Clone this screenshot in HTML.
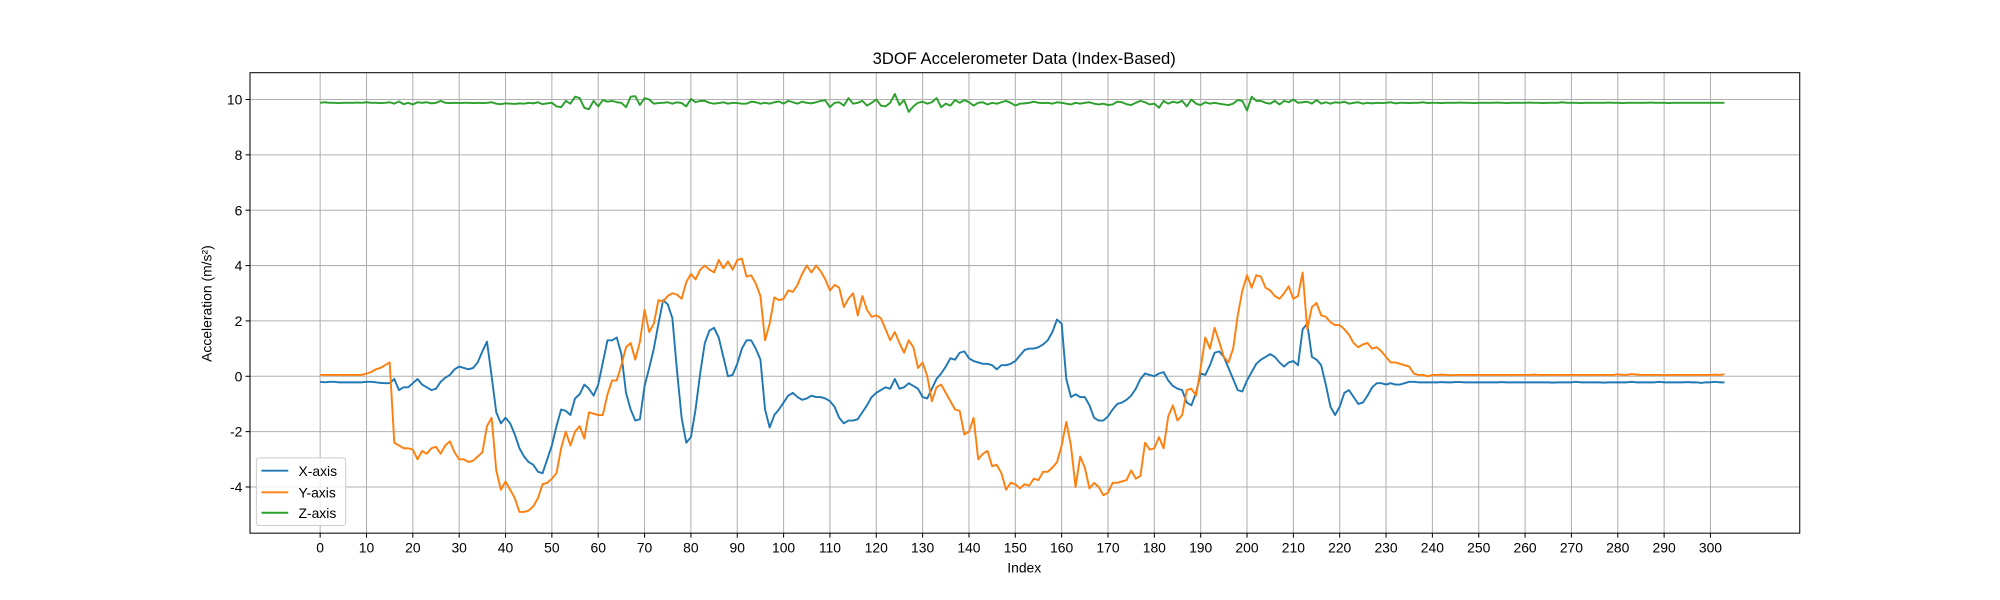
<!DOCTYPE html>
<html><head><meta charset="utf-8"><style>
html,body{margin:0;padding:0;background:#fff;}
svg{display:block;font-family:"Liberation Sans","DejaVu Sans",sans-serif;}
</style></head><body>
<svg id="chart" width="2000" height="600" xmlns="http://www.w3.org/2000/svg">
<rect width="2000" height="600" fill="#fff"/>
<g transform="scale(1.27551)">
<g id="grid"></g>
<g id="series"></g>
<rect x="196" y="57" width="1215" height="361" fill="none" stroke="#000" stroke-width="0.8"/>
<g id="ticks"></g>
<text x="803" y="50" text-anchor="middle" font-size="13">3DOF Accelerometer Data (Index-Based)</text>
<text x="803" y="449" text-anchor="middle" font-size="10.9">Index</text>
<text transform="translate(166,238) rotate(-90)" text-anchor="middle" font-size="10.9">Acceleration (m/s²)</text>
<g>
<rect x="201" y="359" width="70" height="53" rx="2" fill="#fff" fill-opacity="0.8" stroke="#ccc" stroke-width="0.8"/>
<g><line x1="205" y1="369" x2="226" y2="369" stroke="#1f77b4" stroke-width="1.5"/><text x="234" y="373" font-size="10.9">X-axis</text></g>
<g><line x1="205" y1="386" x2="226" y2="386" stroke="#ff7f0e" stroke-width="1.5"/><text x="234" y="390" font-size="10.9">Y-axis</text></g>
<g><line x1="205" y1="402" x2="226" y2="402" stroke="#2ca02c" stroke-width="1.5"/><text x="234" y="406" font-size="10.9">Z-axis</text></g>
</g>
</g>
</svg>
<script>
const xTicks=[0,10,20,30,40,50,60,70,80,90,100,110,120,130,140,150,160,170,180,190,200,210,220,230,240,250,260,270,280,290,300];
const yTicks=[-4,-2,0,2,4,6,8,10];
const seriesX=[-0.2,-0.22,-0.2,-0.2,-0.22,-0.22,-0.22,-0.22,-0.22,-0.22,-0.2,-0.2,-0.22,-0.24,-0.25,-0.25,
-0.1,-0.5,-0.4,-0.4,-0.25,-0.1,-0.3,-0.4,-0.5,-0.45,-0.2,-0.05,0.05,0.25,0.35,0.3,0.25,0.3,0.5,0.9,1.25,0.0,-1.3,-1.7,
-1.5,-1.7,-2.1,-2.6,-2.9,-3.1,-3.2,-3.45,-3.5,-3.0,-2.5,-1.8,-1.2,-1.25,-1.4,-0.8,-0.65,-0.3,-0.45,-0.7,
-0.3,0.5,1.3,1.3,1.4,0.8,-0.6,-1.2,-1.6,-1.55,-0.35,0.3,1.0,1.9,2.75,2.6,2.1,0.2,-1.5,-2.4,
-2.2,-1.2,0.1,1.2,1.65,1.75,1.4,0.7,0.0,0.05,0.45,1.0,1.3,1.3,1.0,0.6,-1.2,-1.85,-1.4,-1.2,
-0.95,-0.7,-0.6,-0.75,-0.85,-0.8,-0.7,-0.75,-0.75,-0.8,-0.9,-1.1,-1.5,-1.7,-1.6,-1.6,-1.55,-1.3,-1.05,-0.75,
-0.6,-0.5,-0.4,-0.45,-0.1,-0.45,-0.4,-0.25,-0.35,-0.45,-0.75,-0.8,-0.45,-0.1,0.1,0.35,0.65,0.6,0.85,0.9,
0.65,0.55,0.5,0.45,0.45,0.4,0.25,0.4,0.4,0.45,0.55,0.75,0.95,1.0,1.0,1.05,1.15,1.3,1.6,2.05,
1.9,-0.1,-0.75,-0.65,-0.75,-0.75,-1.05,-1.5,-1.6,-1.6,-1.45,-1.2,-1.0,-0.95,-0.85,-0.7,-0.45,-0.1,0.1,0.05,
0.0,0.1,0.15,-0.15,-0.35,-0.45,-0.5,-0.95,-1.05,-0.6,0.1,0.05,0.4,0.85,0.9,0.7,0.3,-0.1,-0.5,-0.55,
-0.15,0.15,0.45,0.6,0.7,0.8,0.7,0.5,0.35,0.5,0.55,0.4,1.7,1.9,0.7,0.6,0.4,-0.3,-1.1,-1.4,
-1.1,-0.6,-0.5,-0.75,-1.0,-0.95,-0.7,-0.4,-0.25,-0.25,-0.3,-0.25,-0.3,-0.3,-0.25,-0.2,-0.2,-0.22,-0.22,-0.22,
-0.22,-0.22,-0.21,-0.22,-0.22,-0.21,-0.21,-0.22,-0.22,-0.22,-0.22,-0.22,-0.22,-0.22,-0.22,-0.21,-0.22,-0.22,-0.22,-0.22,
-0.22,-0.22,-0.22,-0.22,-0.22,-0.22,-0.23,-0.22,-0.22,-0.22,-0.22,-0.2,-0.22,-0.22,-0.22,-0.22,-0.22,-0.23,-0.22,-0.22,
-0.22,-0.22,-0.22,-0.2,-0.22,-0.22,-0.22,-0.22,-0.22,-0.2,-0.22,-0.22,-0.22,-0.22,-0.22,-0.21,-0.22,-0.22,-0.24,-0.22,
-0.22,-0.2,-0.22,-0.22];
const seriesY=[0.05,0.05,0.05,0.05,0.05,0.05,0.05,0.05,0.05,0.05,0.1,0.15,0.25,0.3,0.4,0.5,
-2.4,-2.5,-2.6,-2.6,-2.65,-3.0,-2.7,-2.8,-2.6,-2.55,-2.8,-2.5,-2.35,-2.75,-3.0,-3.0,-3.1,-3.05,-2.9,-2.75,-1.8,-1.5,-3.4,-4.1,
-3.8,-4.1,-4.4,-4.9,-4.9,-4.85,-4.7,-4.4,-3.9,-3.85,-3.7,-3.5,-2.6,-2.0,-2.5,-2.0,-1.8,-2.25,-1.3,-1.35,
-1.4,-1.4,-0.65,-0.15,-0.15,0.4,1.05,1.2,0.6,1.25,2.4,1.6,1.9,2.75,2.7,2.9,3.0,2.95,2.8,3.4,
3.7,3.5,3.85,4.0,3.85,3.75,4.2,3.9,4.15,3.85,4.2,4.25,3.6,3.65,3.35,2.9,1.3,1.9,2.85,2.75,
2.8,3.1,3.05,3.3,3.7,4.0,3.75,4.0,3.8,3.5,3.1,3.3,3.2,2.5,2.8,3.0,2.2,2.9,2.4,2.15,
2.2,2.1,1.7,1.3,1.6,1.2,0.85,1.3,1.05,0.3,0.5,0.0,-0.9,-0.4,-0.3,-0.6,-0.9,-1.2,-1.25,-2.1,
-2.0,-1.5,-3.0,-2.8,-2.7,-3.25,-3.2,-3.5,-4.1,-3.85,-3.9,-4.05,-3.9,-3.95,-3.7,-3.75,-3.45,-3.45,-3.3,-3.1,
-2.5,-1.65,-2.5,-4.0,-2.9,-3.3,-4.05,-3.85,-4.0,-4.3,-4.2,-3.85,-3.85,-3.8,-3.75,-3.4,-3.7,-3.6,-2.4,-2.65,
-2.6,-2.2,-2.6,-1.45,-1.05,-1.6,-1.4,-0.5,-0.45,-0.7,0.3,1.4,1.0,1.75,1.25,0.7,0.5,1.0,2.2,3.1,
3.65,3.2,3.65,3.6,3.2,3.1,2.9,2.8,3.0,3.25,2.8,2.9,3.75,1.7,2.5,2.65,2.2,2.15,1.95,1.85,
1.85,1.7,1.5,1.2,1.05,1.15,1.2,1.0,1.05,0.9,0.7,0.5,0.5,0.45,0.4,0.35,0.1,0.05,0.05,0.0,
0.05,0.05,0.06,0.05,0.04,0.05,0.05,0.05,0.05,0.05,0.05,0.05,0.05,0.05,0.05,0.05,0.05,0.05,0.05,0.05,
0.05,0.05,0.06,0.05,0.05,0.05,0.05,0.05,0.05,0.05,0.05,0.05,0.05,0.05,0.05,0.05,0.05,0.05,0.05,0.05,
0.07,0.05,0.05,0.08,0.06,0.05,0.05,0.05,0.05,0.05,0.04,0.05,0.05,0.05,0.05,0.05,0.05,0.05,0.05,0.05,
0.05,0.06,0.05,0.07];
const seriesZ=[9.88,9.9,9.88,9.88,9.87,9.88,9.88,9.88,9.89,9.88,9.9,9.88,9.88,9.87,9.88,9.9,9.85,9.93,9.83,9.88,
9.82,9.9,9.88,9.9,9.86,9.88,9.95,9.88,9.87,9.88,9.87,9.88,9.88,9.87,9.88,9.87,9.88,9.9,9.85,9.83,
9.86,9.85,9.84,9.86,9.85,9.88,9.86,9.9,9.83,9.86,9.88,9.75,9.72,9.95,9.85,10.1,10.05,9.7,9.65,9.95,
9.75,9.98,9.92,9.95,9.9,9.88,9.72,10.1,10.12,9.8,10.05,10.0,9.85,9.87,9.88,9.9,9.85,9.9,9.87,9.75,
10.02,9.9,9.95,9.95,9.88,9.85,9.87,9.9,9.85,9.88,9.87,9.85,9.85,9.92,9.9,9.85,9.88,9.85,9.9,9.93,
9.85,9.95,9.9,9.85,9.92,9.88,9.86,9.9,9.95,9.97,9.72,9.88,9.9,9.78,10.05,9.85,9.88,9.95,9.78,9.88,
10.0,9.78,9.75,9.88,10.2,9.8,9.98,9.55,9.75,9.88,9.92,9.85,9.9,10.05,9.72,9.85,9.78,9.98,9.88,9.98,
9.9,9.78,9.88,9.9,9.82,9.88,9.85,9.9,9.95,9.88,9.78,9.85,9.86,9.88,9.92,9.88,9.87,9.88,9.85,9.9,
9.88,9.85,9.82,9.88,9.85,9.88,9.9,9.85,9.82,9.85,9.8,9.82,9.92,9.9,9.83,9.8,9.88,9.95,9.9,9.82,
9.85,9.7,9.95,9.85,9.92,9.88,9.95,9.75,10.0,9.85,9.8,9.9,9.85,9.88,9.85,9.82,9.8,9.85,9.98,9.95,
9.6,10.1,9.95,9.95,9.88,9.85,9.95,9.82,9.95,9.9,10.0,9.88,9.9,9.92,9.85,9.98,9.85,9.9,9.85,9.9,
9.88,9.92,9.85,9.88,9.9,9.85,9.88,9.86,9.88,9.87,9.88,9.9,9.86,9.88,9.88,9.87,9.88,9.88,9.9,9.87,
9.88,9.88,9.87,9.88,9.88,9.88,9.89,9.88,9.88,9.87,9.88,9.88,9.88,9.88,9.89,9.88,9.87,9.88,9.88,9.88,
9.88,9.89,9.88,9.88,9.87,9.88,9.88,9.88,9.9,9.88,9.88,9.88,9.87,9.88,9.88,9.88,9.88,9.88,9.89,9.88,
9.88,9.87,9.88,9.88,9.88,9.88,9.88,9.89,9.88,9.88,9.88,9.87,9.88,9.88,9.88,9.88,9.88,9.88,9.88,9.88,
9.88,9.88,9.88,9.88];
const NS="http://www.w3.org/2000/svg";
const L=196,R=1411,T=57,B=418;
function xs(i){return 251+(i)*(1341-251)/300;}
function ys(v){return 295-v*(295-78)/10;}
function mk(tag,attrs,parent){const e=document.createElementNS(NS,tag);for(const k in attrs)e.setAttribute(k,attrs[k]);parent.appendChild(e);return e;}
const grid=document.getElementById('grid'),ticks=document.getElementById('ticks'),ser=document.getElementById('series');
xTicks.forEach(t=>{const x=xs(t);
 const g=mk('line',{x1:x,x2:x,y1:T,y2:B,stroke:'#b0b0b0','stroke-width':0.8},grid);
 
 
 const tk=mk('line',{x1:x,x2:x,y1:B,y2:B+3.5,stroke:'#000','stroke-width':0.8},ticks);
 
 
 const tx=mk('text',{x:x,y:B+15,'text-anchor':'middle','font-size':10.9},ticks);tx.textContent=t;
 
 
});
yTicks.forEach(t=>{const y=ys(t);
 const g=mk('line',{x1:L,x2:R,y1:y,y2:y,stroke:'#b0b0b0','stroke-width':0.8},grid);
 
 
 const tk=mk('line',{x1:L-3.5,x2:L,y1:y,y2:y,stroke:'#000','stroke-width':0.8},ticks);
 
 
 const tx=mk('text',{x:L-6,y:y+4,'text-anchor':'end','font-size':10.9},ticks);tx.textContent=t;
 
 
});
function line(arr,color,name){
 const p=arr.map((v,i)=>xs(i).toFixed(2)+','+ys(v).toFixed(2)).join(' ');
 const e=mk('polyline',{points:p,fill:'none',stroke:color,'stroke-width':1.5,'stroke-linejoin':'round'},ser);
 
 
}
line(seriesX,'#1f77b4','x-axis-line');
line(seriesY,'#ff7f0e','y-axis-line');
line(seriesZ,'#2ca02c','z-axis-line');
</script>
</body></html>
